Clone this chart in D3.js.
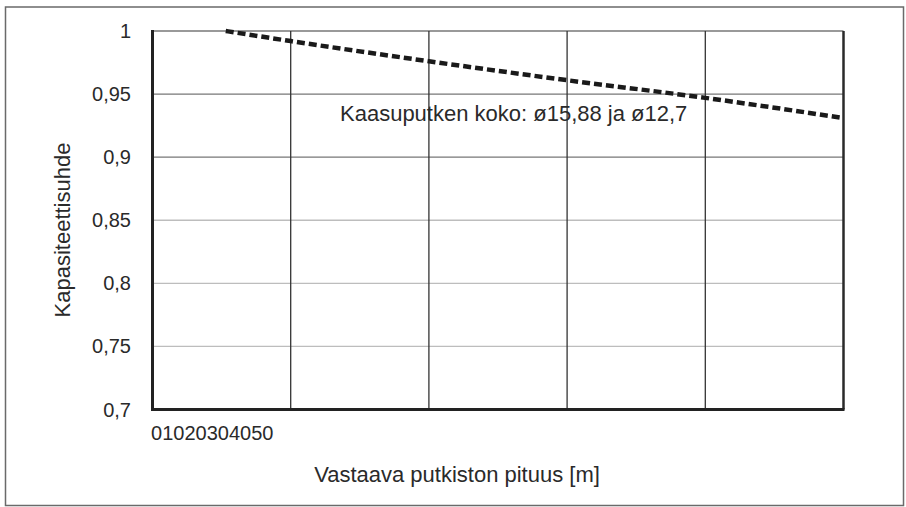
<!DOCTYPE html>
<html><head><meta charset="utf-8">
<script src="https://cdn.jsdelivr.net/npm/d3@7"></script>
<style>body{margin:0;background:#fff}svg{display:block;font-family:"Liberation Sans",Arial,sans-serif}</style>
</head><body>
<svg id="c" width="906" height="507"></svg>
<script>
const xTickLabels = ["0","10","20","30","40","50"];
const xGrid = [10,20,30,40];
const yTicks = [0.7,0.75,0.8,0.85,0.9,0.95,1];
const yTickLabels = ["0,7","0,75","0,8","0,85","0,9","0,95","1"];
const lengths = [5.3,10,20,30,40,50];
const ratios = [1.0,0.992,0.976,0.961,0.947,0.931];
const seriesLabel = "Kaasuputken koko: ø15,88 ja ø12,7";
const xTitle = "Vastaava putkiston pituus [m]";
const yTitle = "Kapasiteettisuhde";

const svg = d3.select("#c");
const L=152.5, R=843.5, T=31, B=409.5;
const x = d3.scaleLinear().domain([0,50]).range([L,R]);
const y = d3.scaleLinear().domain([0.7,1]).range([B,T]);

svg.append("rect").attr("x",5.5).attr("y",7).attr("width",898).attr("height",498.5)
  .attr("fill","none").attr("stroke","#6a6a6a").attr("stroke-width",1.5);

// horizontal grid
const hg = svg.append("g");
hg.selectAll("line").data(yTicks.filter(v=>v>0.7 && v<1)).join("line")
  .attr("x1",L).attr("x2",R).attr("y1",d=>y(d)).attr("y2",d=>y(d))
  .attr("stroke",d=>d>=0.9?"#777":"#bdbdbd").attr("stroke-width",1.3);
// top border
svg.append("line").attr("x1",L).attr("x2",R).attr("y1",T).attr("y2",T).attr("stroke","#777").attr("stroke-width",1.5);
// vertical grid
svg.append("g").selectAll("line").data(xGrid).join("line")
  .attr("x1",d=>x(d)).attr("x2",d=>x(d)).attr("y1",T).attr("y2",B)
  .attr("stroke","#333").attr("stroke-width",1.3);
// right border
svg.append("line").attr("x1",R).attr("x2",R).attr("y1",T).attr("y2",B).attr("stroke","#2a2a2a").attr("stroke-width",2.5);
// axes
svg.append("line").attr("x1",L).attr("x2",L).attr("y1",T-1).attr("y2",B+1.5).attr("stroke","#222").attr("stroke-width",3);
svg.append("line").attr("x1",L-1.5).attr("x2",R+1).attr("y1",B).attr("y2",B).attr("stroke","#222").attr("stroke-width",3);

// y tick labels
svg.append("g").selectAll("text").data(yTicks).join("text")
  .attr("x",131).attr("y",d=>y(d)+7).attr("text-anchor","end")
  .attr("font-size",20).attr("fill","#2a2a2a").text((d,i)=>yTickLabels[i]);

// x tick labels (crammed together as in reference)
const xt = svg.append("g");
let cx = 151;
xTickLabels.forEach(t=>{
  const el = xt.append("text").attr("x",cx).attr("y",439.5).attr("font-size",20).attr("fill","#2a2a2a").text(t);
  cx += el.node().getComputedTextLength();
});

// titles
svg.append("text").attr("x",(L+R)/2-41).attr("y",481.5).attr("text-anchor","middle")
  .attr("font-size",22).attr("fill","#2a2a2a").text(xTitle);
svg.append("text").attr("transform","translate(70,230) rotate(-90)").attr("text-anchor","middle")
  .attr("font-size",22).attr("fill","#2a2a2a").text(yTitle);

// series line
svg.append("path").datum(lengths.map((l,i)=>[l,ratios[i]]))
  .attr("d",d3.line().x(d=>x(d[0])).y(d=>y(d[1])).curve(d3.curveMonotoneX))
  .attr("fill","none").attr("stroke","#1a1a1a").attr("stroke-width",4.5)
  .attr("stroke-dasharray","8,4");

svg.append("text").attr("x",340).attr("y",121).attr("font-size",22).attr("fill","#2a2a2a").text(seriesLabel);
</script>
</body></html>
